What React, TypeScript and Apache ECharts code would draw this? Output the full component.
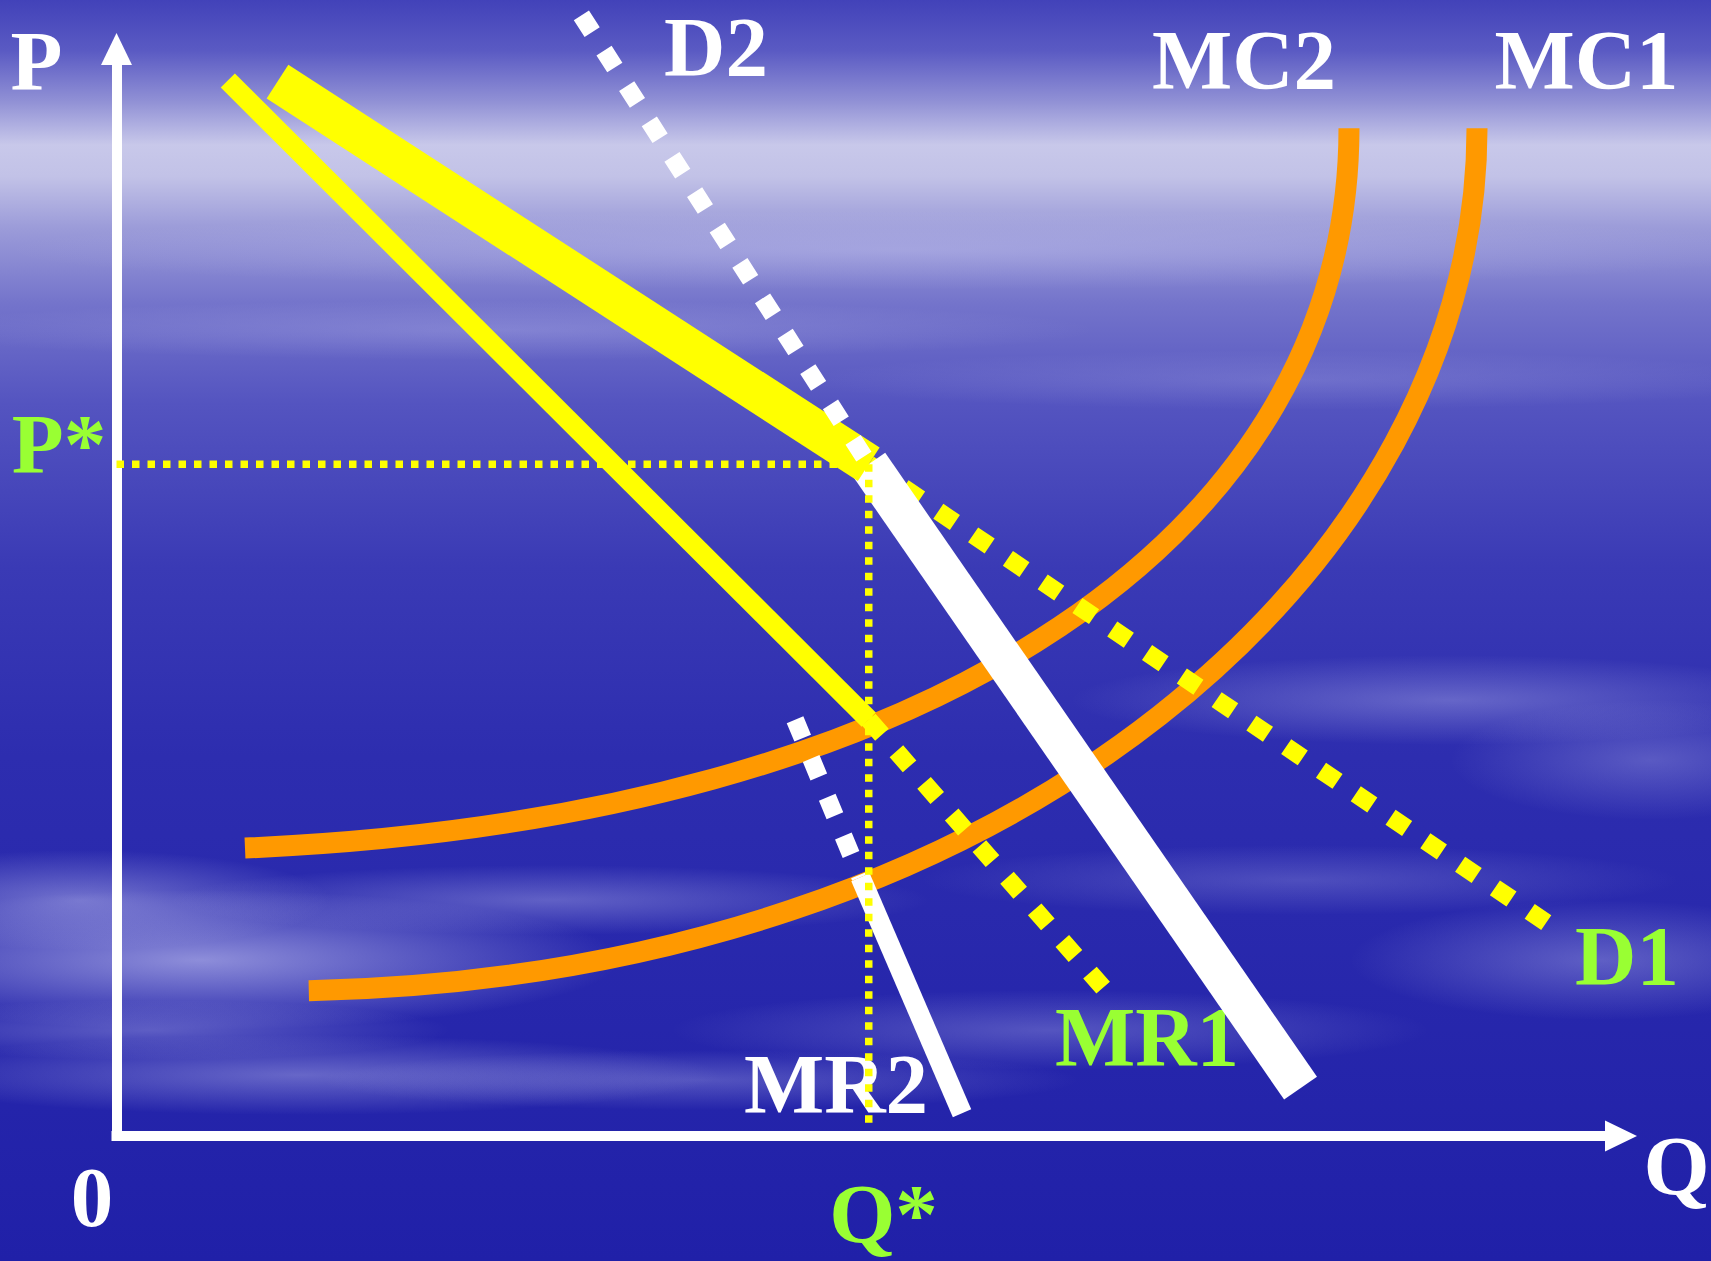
import React, { useEffect, useRef } from "react";
import * as echarts from "echarts";

// Kinked-demand diagram: quantity Q and price P on 0–100 axes.
const kinkQ = 50;
const kinkP = 61.8;

// Demand D1: solid part above the kink, dotted continuation below it
const d1SolidQ = [10.7, kinkQ];
const d1SolidP = [97.0, kinkP];
const d1DottedQ = [kinkQ, 95.6];
const d1DottedP = [kinkP, 19.1];

// Demand D2: dotted above the kink, solid below it
const d2DottedQ = [30.9, kinkQ];
const d2DottedP = [103.1, kinkP];
const d2SolidQ = [kinkQ, 78.7];
const d2SolidP = [kinkP, 4.4];

// Marginal revenue MR1 and MR2
const mr1SolidQ = [7.4, kinkQ];
const mr1SolidP = [97.1, 38.3];
const mr1DottedQ = [kinkQ, 65.8];
const mr1DottedP = [38.3, 13.3];
const mr2DottedQ = [45.1, 49.45];
const mr2DottedP = [38.3, 23.8];
const mr2SolidQ = [49.45, 56.2];
const mr2SolidP = [23.8, 2.1];

// Marginal cost curves as cubic Bézier control points (start, c1, c2, end)
const mc2Q = [8.54, 55.07, 81.92, 81.92];
const mc2P = [26.49, 29.25, 55.93, 92.7];
const mc1Q = [12.78, 60.05, 90.43, 90.43];
const mc1P = [13.36, 14.81, 52.99, 92.7];

// Guide lines at the equilibrium price and quantity
const pStarQ = [0, kinkQ];
const pStarP = [kinkP, kinkP];
const qStarQ = [kinkQ, kinkQ];
const qStarP = [kinkP, 0.8];

const YELLOW = "#FFFF00";
const WHITE = "#FFFFFF";
const ORANGE = "#FF9900";
const GREEN = "#99FF33";
const FONT = 'bold 85px "Liberation Serif", "Times New Roman", serif';

const pairs = (q: number[], p: number[]) => q.map((v, i) => [v, p[i]]);

function curve(
  name: string,
  q: number[],
  p: number[],
  color: string,
  width: number,
  type: any = "solid"
) {
  return {
    type: "line",
    name,
    data: pairs(q, p),
    symbol: "none",
    showSymbol: false,
    silent: true,
    clip: false,
    emphasis: { disabled: true },
    lineStyle: { color, width, type, cap: "butt", join: "round" },
  };
}

// A cost curve drawn as one cubic Bézier through the axes' scales
function costCurve(name: string, q: number[], p: number[], color: string, width: number) {
  return {
    type: "custom",
    name,
    silent: true,
    clip: false,
    dimensions: ["q0", "p0", "q1", "p1", "q2", "p2", "q3", "p3"],
    encode: { x: [0, 2, 4, 6], y: [1, 3, 5, 7] },
    data: [[q[0], p[0], q[1], p[1], q[2], p[2], q[3], p[3]]],
    renderItem: (_params: any, api: any) => {
      const a = api.coord([api.value(0), api.value(1)]);
      const b = api.coord([api.value(2), api.value(3)]);
      const c = api.coord([api.value(4), api.value(5)]);
      const d = api.coord([api.value(6), api.value(7)]);
      return {
        type: "bezierCurve",
        shape: {
          x1: a[0],
          y1: a[1],
          cpx1: b[0],
          cpy1: b[1],
          cpx2: c[0],
          cpy2: c[1],
          x2: d[0],
          y2: d[1],
        },
        style: { stroke: color, lineWidth: width, fill: "none", lineCap: "butt" },
      };
    },
  };
}

function streak(cx: number, cy: number, rx: number, ry: number, a: number) {
  return {
    type: "ellipse",
    silent: true,
    z: -90,
    shape: { cx, cy, rx, ry },
    style: {
      fill: new echarts.graphic.RadialGradient(0.5, 0.5, 0.5, [
        { offset: 0, color: `rgba(225,225,255,${a})` },
        { offset: 1, color: "rgba(225,225,255,0)" },
      ]),
    },
  };
}

function label(text: string, x: number, y: number, fill: string) {
  return {
    type: "text",
    silent: true,
    z: 1,
    x,
    y,
    style: {
      text,
      fill,
      font: FONT,
      lineHeight: 66,
      textAlign: "center",
      textVerticalAlign: "middle",
    },
  };
}

const DOTS = [20, 22];
const FINE = [7.5, 8];

export default function App() {
  const ref = useRef<HTMLDivElement>(null);

  useEffect(() => {
    const chart = echarts.init(ref.current!, undefined, { renderer: "svg" });
    const axisBase = {
      type: "value",
      min: 0,
      max: 100,
      axisLine: {
        show: true,
        onZero: false,
        symbol: ["none", "triangle"],
        symbolSize: [31, 32],
        lineStyle: { color: WHITE, width: 10, cap: "square" },
      },
      axisTick: { show: false },
      axisLabel: { show: false },
      splitLine: { show: false },
    };
    chart.setOption({
      animation: false,
      grid: { left: 116.5, right: 90, top: 49, bottom: 125 },
      xAxis: { ...axisBase },
      yAxis: { ...axisBase },
      graphic: [
        {
          type: "rect",
          silent: true,
          z: -100,
          shape: { x: 0, y: 0, width: 1711, height: 1261 },
          style: {
            fill: new echarts.graphic.LinearGradient(0, 0, 0, 1, [
              { offset: 0, color: "#4242B9" },
              { offset: 0.04, color: "#5A5AC3" },
              { offset: 0.08, color: "#9090D5" },
              { offset: 0.115, color: "#C8C8EA" },
              { offset: 0.14, color: "#C2C2E7" },
              { offset: 0.18, color: "#9C9CD9" },
              { offset: 0.24, color: "#7474CB" },
              { offset: 0.32, color: "#5454C0" },
              { offset: 0.45, color: "#3A3AB5" },
              { offset: 0.6, color: "#2D2DAF" },
              { offset: 1, color: "#2020A8" },
            ]),
          },
        },
        streak(900, 250, 900, 40, 0.25),
        streak(500, 330, 600, 30, 0.2),
        streak(1300, 380, 500, 30, 0.15),
        streak(200, 960, 420, 70, 0.55),
        streak(80, 900, 250, 50, 0.4),
        streak(550, 900, 380, 35, 0.3),
        streak(150, 1030, 300, 30, 0.3),
        streak(300, 1075, 420, 40, 0.35),
        streak(700, 1080, 380, 30, 0.25),
        streak(1450, 700, 380, 45, 0.3),
        streak(1650, 760, 200, 60, 0.25),
        streak(1300, 880, 380, 35, 0.2),
        streak(1600, 960, 250, 60, 0.3),
        streak(1050, 1030, 380, 40, 0.25),
        label("P", 36.5, 61, WHITE),
        label("D2", 716, 46.5, WHITE),
        label("MC2", 1244, 60.3, WHITE),
        label("MC1", 1586.5, 60.3, WHITE),
        label("P*", 59, 444, GREEN),
        label("0", 92, 1197, WHITE),
        label("Q*", 883.5, 1213.5, GREEN),
        label("MR2", 836, 1084, WHITE),
        label("MR1", 1147, 1036.5, GREEN),
        label("D1", 1627, 956, GREEN),
        label("Q", 1676.5, 1166, WHITE),
      ],
      series: [
        curve("MR2 (dotted)", mr2DottedQ, mr2DottedP, WHITE, 18, DOTS),
        costCurve("MC2", mc2Q, mc2P, ORANGE, 21),
        costCurve("MC1", mc1Q, mc1P, ORANGE, 21),
        curve("MR2", mr2SolidQ, mr2SolidP, WHITE, 20),
        curve("P*", pStarQ, pStarP, YELLOW, 7.5, FINE),
        curve("D1 (dotted)", d1DottedQ, d1DottedP, YELLOW, 18, DOTS),
        curve("D2", d2SolidQ, d2SolidP, WHITE, 40),
        curve("Q*", qStarQ, qStarP, YELLOW, 7.5, FINE),
        curve("D1", d1SolidQ, d1SolidP, YELLOW, 40),
        curve("D2 (dotted)", d2DottedQ, d2DottedP, WHITE, 18, DOTS),
        curve("MR1", mr1SolidQ, mr1SolidP, YELLOW, 20),
        curve("MR1 (dotted)", mr1DottedQ, mr1DottedP, YELLOW, 18, DOTS),
      ],
    });
    return () => chart.dispose();
  }, []);

  return (
    <div
      ref={ref}
      style={{ position: "fixed", left: 0, top: 0, width: 1711, height: 1261 }}
    />
  );
}
